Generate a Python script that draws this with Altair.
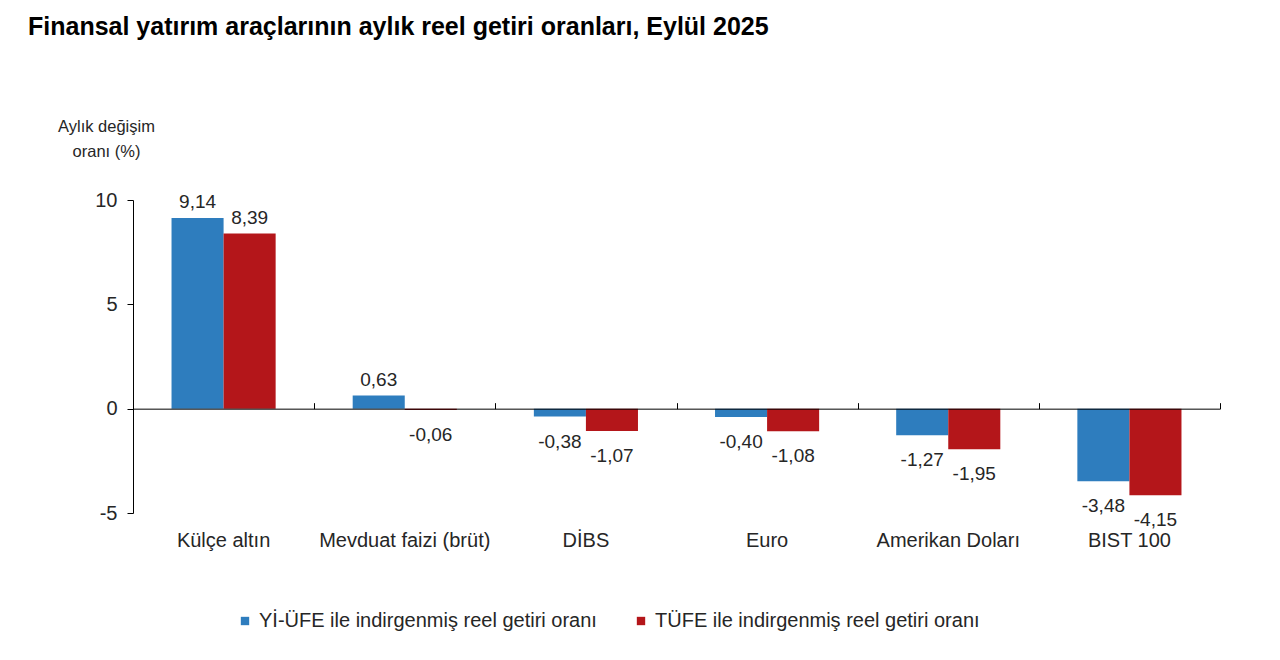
import altair as alt
import pandas as pd

categories = ["Külçe altın", "Mevduat faizi (brüt)", "DİBS", "Euro", "Amerikan Doları", "BIST 100"]
series = ["Yİ-ÜFE ile indirgenmiş reel getiri oranı", "TÜFE ile indirgenmiş reel getiri oranı"]
yiufe = [9.14, 0.63, -0.38, -0.40, -1.27, -3.48]
tufe = [8.39, -0.06, -1.07, -1.08, -1.95, -4.15]
colors = ["#2e7dbe", "#b4161a"]
y_ticks = [-5, 0, 5, 10]

rows = []
for c, a, b in zip(categories, yiufe, tufe):
    for s, v in zip(series, (a, b)):
        rows.append({"cat": c, "series": s, "value": v,
                     "lbl": f"{v:.2f}".replace(".", ",")})
df = pd.DataFrame(rows)

W, H = 1087, 313
FONT = "Liberation Sans"
TXT = "#262626"
FS = 19

xscale = alt.Scale(paddingInner=0, paddingOuter=0)
xoff = alt.XOffset("series:N", sort=series, scale=alt.Scale(paddingInner=0, paddingOuter=0.74))
yenc = alt.Y("value:Q", scale=alt.Scale(domain=[-5, 10], nice=False),
             axis=alt.Axis(values=y_ticks, grid=False, domainColor="black", tickColor="black",
                           tickSize=6, labelFontSize=20, labelPadding=10, labelColor=TXT,
                           labelFont=FONT,
                           labelExpr="replace(datum.label, '\u2212', '-')",
                           title=["Aylık değişim", "oranı (%)"], titleAngle=0, titleAlign="center",
                           titleX=-27, titleY=-82, titleBaseline="top", titleFontWeight="normal",
                           titleFontSize=16.5, titleFont=FONT, titleColor=TXT, titleLineHeight=25))

bars = alt.Chart(df).mark_bar().encode(
    x=alt.X("cat:N", sort=categories, scale=xscale,
            axis=alt.Axis(title=None, domain=False, ticks=False, labelAngle=0, labelPadding=17,
                          labelFontSize=20, labelColor=TXT, labelFont=FONT)),
    xOffset=xoff,
    y=yenc,
    color=alt.Color("series:N", sort=series, scale=alt.Scale(domain=series, range=colors),
                    legend=alt.Legend(orient="none", legendX=102, legendY=411, direction="horizontal",
                                      title=None, symbolType="square", symbolSize=70,
                                      symbolStrokeWidth=0, labelFontSize=20, labelFont=FONT,
                                      labelColor=TXT, labelOffset=4, columnPadding=34, padding=0,
                                      labelLimit=0)),
)

pos = alt.Chart(df).transform_filter("datum.value >= 0").mark_text(
    baseline="bottom", dy=-6, fontSize=FS, font=FONT, color=TXT
).encode(
    x=alt.X("cat:N", sort=categories, scale=xscale,
            axis=alt.Axis(title=None, labels=False, offset=-H * 2 / 3, tickBand="extent",
                          tickSize=6, tickColor="black", domainColor="black", zindex=1)),
    xOffset=xoff,
    y=alt.Y("value:Q"),
    text="lbl:N",
)

neg = alt.Chart(df).transform_filter("datum.value < 0").mark_text(
    baseline="top", dy=16, fontSize=FS, font=FONT, color=TXT
).encode(
    x=alt.X("cat:N", sort=categories, scale=xscale, axis=None),
    xOffset=xoff,
    y=alt.Y("value:Q"),
    text="lbl:N",
)

chart = alt.layer(bars, pos, neg).resolve_axis(x="independent").properties(
    width=W, height=H,
    autosize=alt.AutoSizeParams(type="none"),
    padding={"left": 125, "top": 192, "right": 52, "bottom": 139},
    title=alt.TitleParams("Finansal yatırım araçlarının aylık reel getiri oranları, Eylül 2025",
                          anchor="start", frame="group", fontSize=25, font=FONT,
                          fontWeight="bold", color="black", dx=-105, offset=78),
).configure_view(stroke=None)

chart.save("out.html", embed_options={"renderer": "svg", "actions": False})
